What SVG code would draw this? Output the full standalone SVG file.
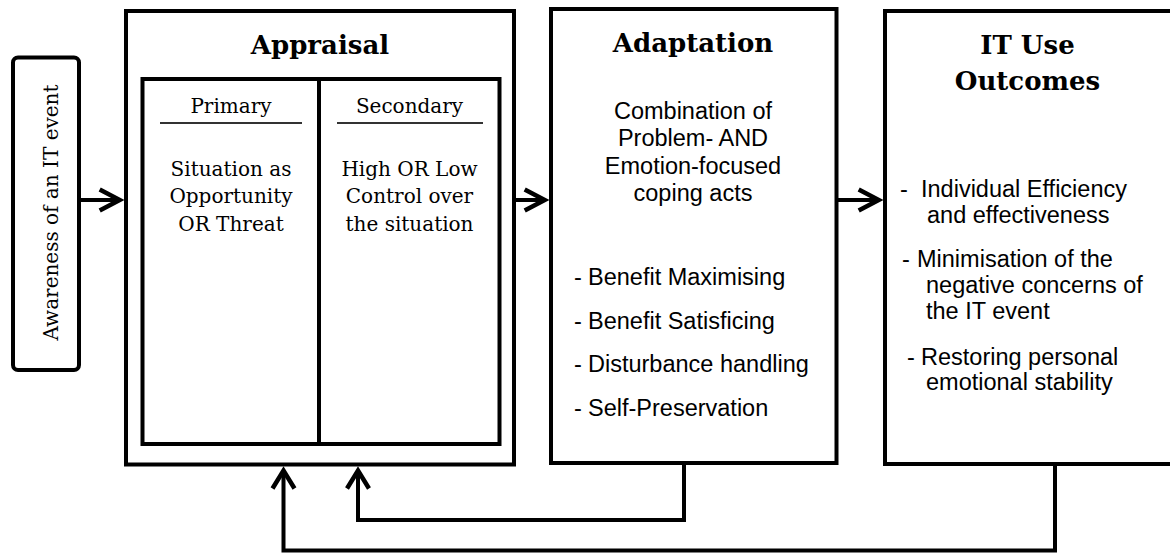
<svg xmlns="http://www.w3.org/2000/svg" width="1170" height="553" viewBox="0 0 1170 553">
  <style>
    .box { fill: #fff; stroke: #000; stroke-width: 4; }
    .wire { fill: none; stroke: #000; stroke-width: 4; }
    .rule { stroke: #333; stroke-width: 2; }
    .title { font-family: "DejaVu Serif", "Liberation Serif", serif; font-weight: bold; font-size: 26px; fill: #000; text-anchor: middle; }
    .serif { font-family: "DejaVu Serif", "Liberation Serif", serif; font-size: 20px; fill: #000; text-anchor: middle; }
    .sans { font-family: "Liberation Sans", Arial, sans-serif; font-size: 23.5px; fill: #000; }
    .mid { text-anchor: middle; }
  </style>
  <defs>
    <marker id="head" markerUnits="userSpaceOnUse" orient="auto" overflow="visible" markerWidth="1" markerHeight="1" refX="0" refY="0">
      <path d="M-20,-10.5 L0,0 L-20,10.5" fill="none" stroke="#000" stroke-width="4.5"/>
    </marker>
    <marker id="head-up" markerUnits="userSpaceOnUse" orient="auto" overflow="visible" markerWidth="1" markerHeight="1" refX="0" refY="0">
      <path d="M-18,-11 L0,0 L-18,11" fill="none" stroke="#000" stroke-width="4.5"/>
    </marker>
  </defs>

  <rect width="1170" height="553" fill="#fff"/>

  <!-- trigger -->
  <g id="awareness">
    <rect class="box" x="13" y="57.5" width="66" height="312.5" rx="5"/>
    <text class="serif" transform="translate(57.5,212.5) rotate(-90)">Awareness of an IT event</text>
  </g>

  <!-- appraisal stage with primary / secondary split -->
  <g id="appraisal">
    <rect class="box" x="126" y="11" width="388" height="453.5"/>
    <text class="title" x="320" y="54.3">Appraisal</text>
    <rect class="box" x="142.5" y="79" width="357" height="365"/>
    <line class="wire" x1="319" y1="79" x2="319" y2="444"/>
  </g>

  <g id="primary">
    <text class="serif" x="231" y="113.3">Primary</text>
    <line class="rule" x1="160" y1="123" x2="302" y2="123"/>
    <text class="serif" x="231" y="175.5">Situation as</text>
    <text class="serif" x="231" y="203">Opportunity</text>
    <text class="serif" x="231" y="230.5">OR Threat</text>
  </g>

  <g id="secondary">
    <text class="serif" x="409.5" y="113.3">Secondary</text>
    <line class="rule" x1="337" y1="123" x2="483" y2="123"/>
    <text class="serif" x="409.5" y="175.5">High OR Low</text>
    <text class="serif" x="409.5" y="203">Control over</text>
    <text class="serif" x="409.5" y="230.5">the situation</text>
  </g>

  <!-- coping stage -->
  <g id="adaptation">
    <rect class="box" x="551" y="9" width="285.5" height="454"/>
    <text class="title" x="693" y="51.7">Adaptation</text>
    <text class="sans mid" x="693" y="119">Combination of</text>
    <text class="sans mid" x="693" y="146.3">Problem- AND</text>
    <text class="sans mid" x="693" y="173.5">Emotion-focused</text>
    <text class="sans mid" x="693" y="200.7">coping acts</text>
    <text class="sans" y="285"><tspan x="574">-</tspan><tspan x="588">Benefit Maximising</tspan></text>
    <text class="sans" y="328.5"><tspan x="574">-</tspan><tspan x="588">Benefit Satisficing</tspan></text>
    <text class="sans" y="372"><tspan x="574">-</tspan><tspan x="588">Disturbance handling</tspan></text>
    <text class="sans" y="415.5"><tspan x="574">-</tspan><tspan x="588">Self-Preservation</tspan></text>
  </g>

  <!-- results stage -->
  <g id="outcomes">
    <rect class="box" x="885" y="11" width="300" height="453"/>
    <text class="title" x="1027.5" y="54.3">IT Use</text>
    <text class="title" x="1027.5" y="90">Outcomes</text>
    <text class="sans" y="197"><tspan x="900">-</tspan><tspan x="921">Individual Efficiency</tspan></text>
    <text class="sans" x="927" y="223">and effectiveness</text>
    <text class="sans" y="267"><tspan x="902">-</tspan><tspan x="917">Minimisation of the</tspan></text>
    <text class="sans" x="926" y="293">negative concerns of</text>
    <text class="sans" x="926" y="319">the IT event</text>
    <text class="sans" y="364.5"><tspan x="907">-</tspan><tspan x="921">Restoring personal</tspan></text>
    <text class="sans" x="926" y="390">emotional stability</text>
  </g>

  <!-- flow and feedback connectors -->
  <g id="connectors">
    <line class="wire" x1="79" y1="200" x2="119.7" y2="200" marker-end="url(#head)"/>
    <line class="wire" x1="514" y1="200" x2="544.7" y2="200" marker-end="url(#head)"/>
    <line class="wire" x1="836.5" y1="200" x2="878.7" y2="200" marker-end="url(#head)"/>
    <path class="wire" d="M684,463 V520 H358 V470.5" marker-end="url(#head-up)"/>
    <path class="wire" d="M1055,464 V550.5 H283.5 V470.5" marker-end="url(#head-up)"/>
  </g>
</svg>
